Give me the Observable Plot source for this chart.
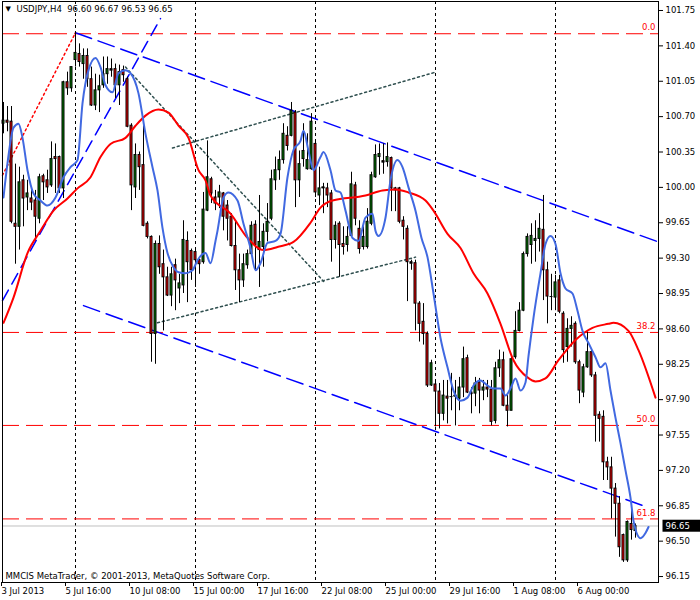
<!DOCTYPE html>
<html><head><meta charset="utf-8">
<script src="https://cdn.jsdelivr.net/npm/d3@7"></script>
<script src="https://cdn.jsdelivr.net/npm/@observablehq/plot@0.6"></script>
<style>
html,body{margin:0;padding:0;background:#fff;}
#chart{width:700px;height:600px;}
</style></head><body><div id="chart"></div>
<script>
// ---- Data (USDJPY H4, bar index 0 = 3 Jul 2013 00:00) ----
const open = [100.63,100.66,100.65,99.64,99.61,100.07,99.90,99.89,99.87,99.69,
100.11,100.07,100.02,100.30,100.30,99.99,101.04,100.98,101.26,101.32,
101.22,101.30,101.07,100.81,100.96,101.01,101.12,101.17,101.17,101.01,
101.16,101.07,100.61,100.00,100.32,100.22,99.64,99.51,98.55,99.44,
99.24,99.11,98.93,99.23,99.00,99.03,99.47,99.37,99.36,99.28,
99.26,99.77,100.08,99.90,99.90,99.94,99.82,99.71,99.42,99.18,
99.08,99.23,99.34,99.63,99.38,99.41,99.56,99.69,100.07,100.17,
100.27,100.51,100.51,100.74,100.07,100.28,100.18,100.18,100.43,99.92,
99.99,99.99,99.94,99.48,99.64,99.44,99.43,99.52,100.02,99.59,
99.41,99.41,99.64,100.10,100.30,100.26,100.25,100.29,99.99,99.99,
99.67,99.59,99.26,99.25,98.85,98.67,98.55,98.04,98.05,97.98,
97.76,97.93,97.93,97.93,97.91,98.02,98.31,97.97,97.96,98.07,
97.99,98.02,98.00,97.69,98.21,98.29,97.84,97.79,98.32,98.58,
98.78,99.34,99.43,99.47,99.49,99.58,99.18,98.92,98.91,99.08,
98.75,98.42,98.60,98.65,98.27,97.97,98.22,98.37,98.14,97.75,
97.73,97.28,97.23,97.02,96.87,96.56,96.31,96.67,96.60];
const high = [100.84,100.80,100.80,100.23,100.20,100.12,100.07,99.99,99.97,100.13,
100.13,100.17,100.45,100.43,100.31,101.05,101.14,101.19,101.54,101.42,
101.37,101.37,101.19,101.12,101.11,101.29,101.29,101.27,101.22,101.21,
101.20,101.09,100.63,100.43,100.35,100.61,99.66,99.52,99.47,99.52,
99.38,99.21,99.21,99.29,99.14,99.67,99.56,99.39,99.39,99.29,
99.95,100.46,100.10,99.97,100.02,99.95,99.87,99.74,99.67,99.34,
99.34,99.38,99.66,99.67,99.92,99.64,99.84,100.17,100.30,100.36,
100.63,100.60,100.84,100.76,100.36,100.63,100.53,100.73,100.46,100.20,
100.04,100.04,99.97,99.66,99.66,99.61,99.61,100.15,100.05,99.67,
99.61,99.79,100.15,100.42,100.43,100.43,100.44,100.30,100.00,100.00,
99.71,99.62,99.28,99.28,98.87,98.85,98.57,98.29,98.09,98.06,
98.09,98.09,98.16,98.09,98.12,98.42,98.34,98.02,98.12,98.11,
98.09,98.09,98.09,98.27,98.39,98.37,97.94,98.34,98.77,98.86,
99.36,99.54,99.64,99.67,99.74,99.92,99.26,99.14,99.13,99.13,
98.77,98.70,98.72,98.67,98.29,98.25,98.57,98.39,98.17,97.78,
97.79,97.33,97.33,97.07,96.94,96.57,96.70,96.85,96.67];
const low = [100.53,100.55,99.64,99.24,99.38,99.61,99.77,99.77,99.47,99.64,
99.87,99.94,100.00,99.94,99.94,99.89,100.91,100.94,101.19,101.19,
101.07,100.99,100.80,100.76,100.74,100.98,101.02,101.09,100.88,100.81,
101.04,100.59,99.77,99.89,99.97,99.61,99.49,98.27,98.25,99.14,
98.58,98.92,98.82,98.78,98.85,98.95,98.86,99.08,99.01,99.14,
99.24,99.76,99.84,99.77,99.79,99.57,99.47,99.41,98.98,98.86,
99.01,99.19,99.33,99.18,99.01,99.21,99.46,99.67,99.97,100.07,
100.23,100.36,100.50,99.80,99.90,100.20,100.17,100.17,99.90,99.82,
99.74,99.80,99.26,99.39,99.11,99.33,99.36,99.51,99.62,99.34,
99.38,99.39,99.62,100.09,100.12,100.13,100.20,99.76,99.76,99.64,
99.48,98.87,99.18,98.58,98.47,98.44,98.02,98.03,97.63,97.61,
97.69,97.66,97.79,97.64,97.79,97.92,97.96,97.76,97.83,97.76,
97.89,97.92,97.64,97.66,98.12,97.83,97.63,97.79,98.30,98.57,
98.77,99.31,99.24,99.26,99.36,98.88,98.65,98.78,98.78,98.75,
98.26,98.27,98.42,98.25,97.86,97.92,98.21,98.12,97.48,97.48,
97.10,97.10,96.72,96.54,96.34,96.29,96.29,96.51,96.53];
const close = [100.66,100.64,99.66,99.61,100.05,99.89,99.94,99.85,99.71,100.10,
100.05,100.00,100.28,100.28,99.99,101.04,100.98,101.19,101.33,101.24,
101.30,101.07,100.81,100.96,101.00,101.12,101.17,101.16,101.01,101.14,
101.11,100.60,100.02,100.32,100.20,99.62,99.51,98.55,99.44,99.21,
99.11,98.93,99.14,99.08,99.05,99.48,99.26,99.18,99.28,99.24,
99.78,100.10,99.94,99.84,99.95,99.71,99.69,99.42,99.18,99.08,
99.24,99.34,99.62,99.43,99.46,99.56,99.66,100.08,100.17,100.27,
100.53,100.41,100.76,100.07,100.23,100.36,100.27,100.65,99.95,99.99,
100.00,99.92,99.48,99.62,99.43,99.41,99.51,100.03,99.69,99.39,
99.51,99.66,100.12,100.32,100.33,100.25,100.30,99.99,99.97,99.66,
99.61,99.26,99.25,98.85,98.65,98.55,98.04,98.26,97.98,97.76,
97.94,97.91,97.93,97.94,98.02,98.30,97.97,97.96,98.06,97.99,
98.02,98.00,97.68,98.21,98.29,97.84,97.79,98.30,98.58,98.78,
99.34,99.51,99.52,99.49,99.59,99.18,98.92,98.92,99.06,98.77,
98.39,98.60,98.63,98.27,97.99,98.22,98.37,98.14,97.74,97.71,
97.28,97.23,97.02,96.87,96.44,96.31,96.69,96.61,96.65];

// moving averages (bar index, price), drawn with shift beyond last bar
const maBlueIdx = [0,1,2.5,3.75,4.75,6,7.5,9.25,11,13,15,16.75,18.5,19.75,21.25,23,24.25,25.5,27.25,28.75,30.5,31.75,33.75,35.5,37.25,38.5,39.75,41,42.5,43.75,45.5,47.25,48.5,50.5,51.75,53,53.5,55,56.25,58.5,60,61.75,63,64.25,66,68,69.25,71,72.5,74.25,75,76.25,77.5,79.25,80,81.75,83,84.25,85.5,87.25,88.75,90.5,92.25,93,93.75,95.5,96.75,98.5,99.75,101.25,103,104.5,106,107.5,109.25,111,112.5,114.25,116,117.5,119.25,121,122.5,124.25,125.5,126.75,128,129.25,130.5,131.25,132.5,134.25,135.5,136.75,138,139.25,140.5,142.25,143.5,144.75,146.25,148,149.25,150.5,151.75,153,154.25,155.5,156.75,157.5,159.25,160.5,161.25];
const maBlueVal = [99.90,100.24,100.59,100.63,100.49,100.17,99.94,99.87,99.82,99.90,100.10,100.20,100.27,100.83,101.16,101.28,101.19,101.01,100.94,101.13,101.16,101.13,100.93,100.53,100.20,99.97,99.60,99.35,99.21,99.16,99.15,99.18,99.28,99.35,99.25,99.47,99.57,99.90,99.95,99.87,99.64,99.40,99.18,99.25,99.45,99.47,99.54,100.10,100.37,100.46,100.56,100.36,100.17,100.30,100.35,100.17,99.97,99.95,99.77,99.50,99.47,99.70,99.74,99.57,99.52,99.70,100.07,100.27,100.20,100.00,99.77,99.50,99.31,98.95,98.51,98.22,97.99,97.89,97.92,98.04,98.09,98.04,98.01,98.01,97.94,98.01,98.11,97.99,98.07,98.33,98.71,99.15,99.44,99.52,99.44,99.15,99.00,98.95,98.78,98.58,98.46,98.32,98.22,98.26,97.99,97.72,97.47,97.20,96.93,96.70,96.53,96.58,96.64];
const maRedIdx = [0,2.5,6,9.25,12.5,16,18.5,21.75,24.25,26.75,30.5,33,35.5,38.75,41.25,43.75,46.25,48.75,50.5,51.75,56.75,61,65,68.5,72.5,76.75,79.25,82.25,90.5,94.75,98,101.25,105.5,107.5,111,114.25,117.5,121,124.25,127.5,131,133,135.5,138.75,143,147.25,151.25,152.5,156.25,158.75,163];
const maRedVal = [98.66,98.91,99.35,99.57,99.77,99.89,99.99,100.10,100.30,100.43,100.49,100.61,100.71,100.77,100.74,100.61,100.49,100.17,100.07,99.92,99.74,99.50,99.38,99.41,99.46,99.65,99.80,99.87,99.92,99.97,99.98,99.95,99.87,99.77,99.54,99.40,99.15,98.95,98.65,98.29,98.12,98.08,98.11,98.29,98.49,98.61,98.65,98.66,98.58,98.39,97.92];

// drawn objects: [barIndex, price] end points
const channelUpper = [[18,101.53],[163.75,99.46]];
const channelLower = [[20,98.83],[160,96.85]];
const steepLine = [[-0.25,98.88],[39.25,101.67]];
const redDotted = [[-0.25,100.12],[18,101.53]];
const grayDesc = [[30.5,101.19],[80.5,99.05]];
const grayUpper = [[42.25,100.39],[108,101.14]];
const grayLower = [[38.5,98.66],[103,99.31]];

const fibLevels = [101.52, 98.565, 97.645, 96.72];
const fibLabels = ["0.0", "38.2", "50.0", "61.8"];
const weekSeparators = [18, 48, 78, 108, 138];
const priceTicks = [101.75,101.40,101.05,100.70,100.35,100.00,99.65,99.30,98.95,98.60,98.25,97.90,97.55,97.20,96.85,96.50,96.15];
const timeTickIdx = [0,16,32,48,64,80,96,112,128,144];
const timeLabels = ["3 Jul 2013","5 Jul 16:00","10 Jul 08:00","15 Jul 00:00","17 Jul 16:00","22 Jul 08:00","25 Jul 00:00","29 Jul 16:00","1 Aug 08:00","6 Aug 00:00"];
const lastPrice = 96.65;
const titleText = "USDJPY,H4  96.60 96.67 96.53 96.65";
const copyrightText = "MMCIS MetaTrader, © 2001-2013, MetaQuotes Software Corp.";

// ---- build ----
const bars = open.map((o, i) => ({i, o, h: high[i], l: low[i], c: close[i]}));
const blue = maBlueIdx.map((i, k) => ({i, p: maBlueVal[k]}));
const red = maRedIdx.map((i, k) => ({i, p: maRedVal[k]}));
const seg = (pts) => pts.map(([i, p]) => ({i, p}));
const fib = fibLevels.map((p, k) => ({p, label: fibLabels[k]}));
const labelOf = new Map(timeTickIdx.map((d, k) => [d, timeLabels[k]]));
const GREEN = "#008000", RED = "#ff0000";

const chart = Plot.plot({
  width: 700, height: 600,
  marginTop: 1, marginLeft: 2, marginRight: 42, marginBottom: 18,
  x: {type: "linear", domain: [-0.25, 163.75]},
  y: {type: "linear", domain: [96.091, 101.839]},
  color: {type: "identity"},
  style: {fontFamily: "'DejaVu Sans', sans-serif", fontSize: "8.5px", background: "white", color: "black", overflow: "visible"},
  marks: [
    Plot.ruleX(weekSeparators, {x: d => d, stroke: "black", strokeDasharray: "3,3"}),
    Plot.ruleY([lastPrice], {y: d => d, stroke: "#c0c0c0"}),
    Plot.ruleY(fib, {y: "p", stroke: RED, strokeDasharray: "17,7"}),
    Plot.text(fib, {y: "p", text: "label", frameAnchor: "right", textAnchor: "end", dx: -3, dy: -6, fill: RED}),
    Plot.line(seg(channelUpper), {x: "i", y: "p", stroke: "#0000ff", strokeDasharray: "17,7"}),
    Plot.line(seg(channelLower), {x: "i", y: "p", stroke: "#0000ff", strokeDasharray: "17,7"}),
    Plot.line(seg(steepLine), {x: "i", y: "p", stroke: "#0000ff", strokeDasharray: "12,7"}),
    Plot.line(seg(redDotted), {x: "i", y: "p", stroke: RED, strokeDasharray: "2,3"}),
    Plot.line(seg(grayDesc), {x: "i", y: "p", stroke: "#2f4f4f", strokeDasharray: "2,3"}),
    Plot.line(seg(grayUpper), {x: "i", y: "p", stroke: "#2f4f4f", strokeDasharray: "2,3"}),
    Plot.line(seg(grayLower), {x: "i", y: "p", stroke: "#2f4f4f", strokeDasharray: "2,3"}),
    Plot.ruleX(bars, {x: "i", y1: "l", y2: "h", stroke: "black"}),
    Plot.rect(bars, {x1: d => d.i - 0.25, x2: d => d.i + 0.25, y1: "o", y2: "c",
      fill: d => d.c >= d.o ? GREEN : RED, stroke: "black", strokeWidth: 1}),
    Plot.ruleY(bars.filter(d => Math.abs(d.c - d.o) < 0.015), {x1: d => d.i - 0.375, x2: d => d.i + 0.375, y: "c", stroke: "black"}),
    Plot.line(red, {x: "i", y: "p", stroke: RED, strokeWidth: 2, curve: "monotone-x"}),
    Plot.line(blue, {x: "i", y: "p", stroke: "#4169e1", strokeWidth: 2, curve: "monotone-x"}),
    Plot.frame({stroke: "black"}),
    Plot.axisY(priceTicks, {anchor: "right", tickSize: 4, tickPadding: 3, tickFormat: d => d.toFixed(2), label: null}),
    Plot.axisX(timeTickIdx, {anchor: "bottom", tickSize: 4, tickPadding: 1, tickFormat: d => labelOf.get(d), textAnchor: "start", dx: -2, label: null}),
    Plot.text([titleText], {text: d => d, frameAnchor: "top-left", dx: 14, dy: 4, lineAnchor: "top", textAnchor: "start"}),
    Plot.text(["▼"], {text: d => d, frameAnchor: "top-left", dx: 3, dy: 5, lineAnchor: "top", textAnchor: "start", fontSize: 7}),
    Plot.text([copyrightText], {text: d => d, frameAnchor: "bottom-left", dx: 3, dy: -4, lineAnchor: "bottom", textAnchor: "start"}),
    Plot.text([lastPrice], {y: d => d, text: d => d.toFixed(2), frameAnchor: "right", dx: 7, textAnchor: "start", fill: "white", className: "lastprice"})
  ]
});
document.getElementById("chart").appendChild(chart);

// black box behind the current-price label
const lp = d3.select(chart).select("g.lastprice text");
if (!lp.empty()) {
  const bb = lp.node().getBBox();
  const g = d3.select(lp.node().parentNode);
  const tr = lp.attr("transform");
  g.insert("rect", "text")
    .attr("x", bb.x - 3).attr("y", bb.y - 1)
    .attr("width", 700).attr("height", bb.height + 2)
    .attr("fill", "black")
    .attr("transform", tr);
}
</script>
</body></html>
